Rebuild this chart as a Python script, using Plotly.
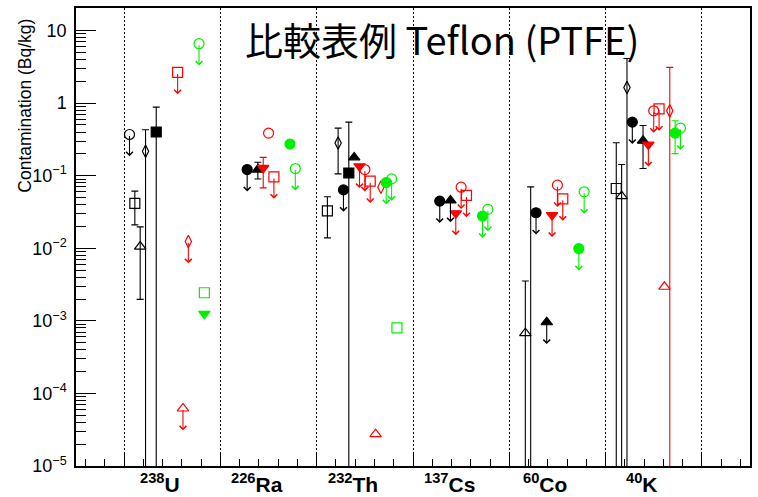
import math
import plotly.graph_objects as go

# ---------------- data ----------------
isotopes = ["238U", "226Ra", "232Th", "137Cs", "60Co", "40K"]
iso_mass = ["238", "226", "232", "137", "60", "40"]
iso_elem = ["U", "Ra", "Th", "Cs", "Co", "K"]

ytick_vals = [1e-5, 1e-4, 1e-3, 1e-2, 1e-1, 1, 10]
ytick_text = ["10<sup>−5</sup>", "10<sup>−4</sup>", "10<sup>−3</sup>", "10<sup>−2</sup>",
              "10<sup>−1</sup>", "1", "10"]

# each entry: (isotope, value, lower bound, upper bound, upper-limit arrow)
# lower bound 0 -> error bar runs off the bottom of the axis; None -> no error bar
s01 = [("238U", 0.37, None, None, True)]
s02 = [("238U", 0.0416, 0.021, 0.0613, False), ("232Th", 0.0327, 0.0139, 0.0512, False),
       ("40K", 0.0667, 0, 0.285, False)]
s03 = [("238U", 0.01055, 0.00198, 0.0197, False), ("60Co", 6.76e-4, 0, 0.00354, False),
       ("40K", 0.0523, 0, 0.1425, False)]
s04 = [("238U", 0.217, 0, 0.43, False), ("232Th", 0.282, 0.106, 0.453, False),
       ("60Co", 3e-6, 0, 0.0702, False), ("40K", 1.64, 0, 4.13, False)]
s05 = [("226Ra", 0.1216, None, None, True), ("232Th", 0.0638, None, None, True),
       ("137Cs", 0.0447, None, None, True), ("60Co", 0.0309, None, None, True),
       ("40K", 0.547, None, None, True)]
s06 = [("238U", 0.40, 0, 0.88, False), ("232Th", 0.109, 0, 0.547, False)]
s07 = [("226Ra", 0.1216, 0.0903, 0.153, False), ("232Th", 0.179, None, None, False),
       ("137Cs", 0.0457, None, None, True), ("60Co", 9.57e-4, None, None, True),
       ("40K", 0.304, 0.1256, 0.493, False)]
s08 = [("226Ra", 0.128, 0.068, 0.179, False), ("232Th", 0.135, None, None, True),
       ("137Cs", 0.0303, None, None, True), ("60Co", 0.0287, None, None, True),
       ("40K", 0.268, None, None, True)]
s09 = [("226Ra", 0.386, None, None, False), ("232Th", 0.1216, None, None, True),
       ("137Cs", 0.0695, None, None, True), ("60Co", 0.0741, None, None, True),
       ("40K", 0.784, None, None, True)]
s10 = [("238U", 2.65, None, None, True), ("226Ra", 0.0963, None, None, True),
       ("232Th", 0.084, None, None, True), ("137Cs", 0.0535, None, None, True),
       ("60Co", 0.048, None, None, True), ("40K", 0.835, None, None, True)]
s11 = [("238U", 6.2e-5, None, None, True), ("232Th", 2.75e-5, None, None, False),
       ("40K", 0.00295, None, None, False)]
s12 = [("238U", 0.0124, None, None, True), ("232Th", 0.0695, None, None, False),
       ("40K", 0.784, 0, 3.11, False)]
s13 = [("226Ra", 0.273, None, None, False), ("232Th", 0.0806, None, None, True),
       ("137Cs", 0.0278, None, None, True), ("60Co", 0.0099, None, None, True),
       ("40K", 0.386, 0.2016, 0.572, False)]
s14 = [("238U", 6.6, None, None, True), ("226Ra", 0.1256, None, None, True),
       ("232Th", 0.0904, None, None, True), ("137Cs", 0.0344, None, None, True),
       ("60Co", 0.060, None, None, True), ("40K", 0.453, None, None, True)]
s15 = [("238U", 0.00244, None, None, False), ("232Th", 0.0008, None, None, False)]
s16 = [("238U", 0.00125, None, None, False)]

BLACK, RED, GREEN = "#000000", "#ff0000", "#00f000"
# (data, slot within bin, symbol, colour)
series = [
    (s01, 1, "circle-open", BLACK), (s02, 2, "square-open", BLACK),
    (s03, 3, "triangle-up-open", BLACK), (s04, 4, "diamond-tall-open", BLACK),
    (s05, 5, "circle", BLACK), (s06, 6, "square", BLACK),
    (s07, 7, "triangle-up", BLACK), (s08, 8, "triangle-down", RED),
    (s09, 9, "circle-open", RED), (s10, 10, "square-open", RED),
    (s11, 11, "triangle-up-open", RED), (s12, 12, "diamond-tall-open", RED),
    (s13, 13, "circle", GREEN), (s14, 14, "circle-open", GREEN),
    (s15, 15, "square-open", GREEN), (s16, 15, "triangle-down", GREEN),
]

FONT = "Liberation Sans, Arial, Helvetica, sans-serif"
ML, MR, MT, MB = 76, 6, 6, 31
W, H = 758, 497
PW, PH = W - ML - MR, H - MT - MB

fig = go.Figure()
arrows = []
for data, slot, sym, col in series:
    xs_e, ys_e, ep, em = [], [], [], []
    xs_n, ys_n = [], []
    for iso, v, lo, hi, lim in data:
        x = isotopes.index(iso) + 0.5 + slot / 18.0
        if hi is not None:
            xs_e.append(x); ys_e.append(v)
            ep.append(hi - v); em.append(v - lo)
        else:
            xs_n.append(x); ys_n.append(v)
        if lim:
            arrows.append(dict(x=x, y=math.log10(v / 2.0), ax=x, ay=math.log10(v),
                               xref="x", yref="y", axref="x", ayref="y",
                               text="", showarrow=True, arrowhead=4, arrowsize=1.2,
                               arrowwidth=1.1, arrowcolor=col))
    msize = 9 if "diamond" in sym else 10
    marker = dict(symbol=sym, size=msize, color=col, line=dict(color=col, width=1.2))
    if xs_e:
        fig.add_trace(go.Scatter(x=xs_e, y=ys_e, mode="markers", marker=marker,
                                 error_y=dict(type="data", symmetric=False, array=ep,
                                              arrayminus=em, color=col, thickness=1.1,
                                              width=3.5),
                                 showlegend=False, hoverinfo="skip"))
    if xs_n:
        fig.add_trace(go.Scatter(x=xs_n, y=ys_n, mode="markers", marker=marker,
                                 showlegend=False, hoverinfo="skip"))

annotations = list(arrows)
for i in range(len(isotopes)):
    annotations.append(dict(x=i + 1, y=0, xref="x", yref="paper", yanchor="top",
                            xanchor="center", xshift=-12, yshift=-2, showarrow=False,
                            text="<b><sup>%s</sup>%s</b>" % (iso_mass[i], iso_elem[i]),
                            font=dict(family=FONT, size=21, color="black")))
# title centred at ~ (443, 37) px
annotations.append(dict(x=(443 - ML) / PW, y=1 - (37 - MT) / PH, xref="paper", yref="paper",
                        xanchor="center", yanchor="middle", showarrow=False,
                        text="比較表例 Teflon (PTFE)",
                        font=dict(family="Noto Sans CJK JP", size=38, color="black")))
# y-axis title centred at ~ (24, 104) px
annotations.append(dict(x=(24 - ML) / PW, y=1 - (104 - MT) / PH, xref="paper", yref="paper",
                        showarrow=False, xanchor="center", yanchor="middle", textangle=-90,
                        text="Contamination (Bq/kg)",
                        font=dict(family=FONT, size=17.5, color="black")))

fig.update_layout(
    width=W, height=H,
    margin=dict(l=ML, r=MR, t=MT, b=MB),
    paper_bgcolor="white", plot_bgcolor="white",
    showlegend=False,
    font=dict(family=FONT, color="black"),
    annotations=annotations,
    xaxis=dict(range=[0, 7], tickmode="linear", tick0=0.5, dtick=1,
               ticks="inside", ticklen=14, tickwidth=1, tickcolor="black",
               showticklabels=False, showgrid=True, gridcolor="black", gridwidth=1,
               griddash="2px,2px", zeroline=False, showline=True, mirror=True,
               linecolor="black", linewidth=1.5,
               minor=dict(tick0=0.1, dtick=0.2, ticks="inside", ticklen=7,
                          tickcolor="black", tickwidth=1, showgrid=False)),
    yaxis=dict(type="log", range=[-5, 1.311], tickmode="array", tickvals=ytick_vals,
               ticktext=ytick_text, ticks="inside", ticklen=20, tickwidth=1,
               tickcolor="black", showgrid=False, zeroline=False, showline=True,
               mirror=True, linecolor="black", linewidth=1.5,
               tickfont=dict(family=FONT, size=18, color="black"),
               ticklabelstandoff=4,
               minor=dict(dtick="D1", ticks="inside", ticklen=10, tickcolor="black",
                          tickwidth=1, showgrid=False)),
)

fig.write_html("out.html", config={"displayModeBar": False},
               post_script="document.body.style.margin='0';")
